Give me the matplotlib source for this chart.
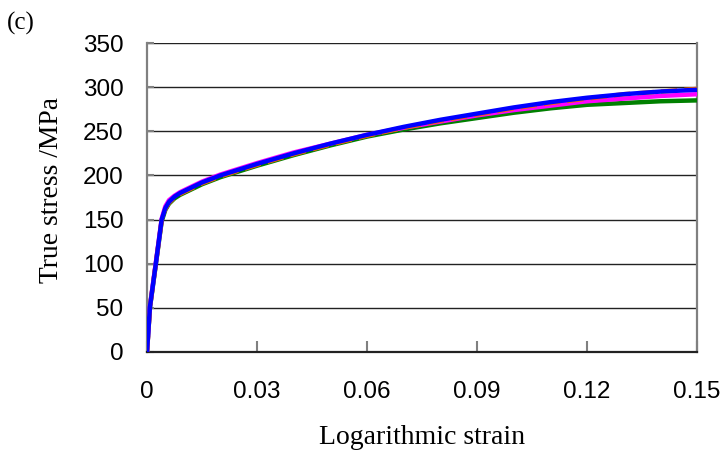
import matplotlib
matplotlib.use("Agg")
import matplotlib.pyplot as plt

# ── data ────────────────────────────────────────────────────────────────────
STRAIN = [0.0, 0.0008, 0.0024, 0.004, 0.0050, 0.0060, 0.0075, 0.009, 0.012,
          0.015, 0.02, 0.03, 0.04, 0.05, 0.06, 0.07, 0.08, 0.09, 0.10,
          0.11, 0.12, 0.13, 0.14, 0.15]

STRESS_BLUE    = [0, 51, 100, 150, 163, 170, 176, 180, 186, 192, 200, 213, 225,
                  236, 246, 255, 263, 270, 277, 283, 288, 292, 295, 297]
STRESS_ORANGE  = [0, 51, 100, 149, 162, 169, 175, 179, 185, 191, 199, 212, 224,
                  235, 245, 254, 262, 269, 276, 282, 287, 292, 295, 298]
STRESS_MAGENTA = [0, 52, 101, 151, 165, 172, 177, 181, 187, 193, 201, 214, 226,
                  236, 246, 254, 261, 268, 274, 279, 284, 287, 290, 292]
STRESS_GREEN   = [0, 50, 99, 148, 161, 168, 174, 178, 184, 190, 198, 211, 223,
                  234, 244, 252, 259, 265, 271, 276, 280, 282, 284, 285]

SERIES = [
    ("green",   STRESS_GREEN,   "#008000", "-"),
    ("magenta", STRESS_MAGENTA, "#FF00FF", "-"),
    ("orange",  STRESS_ORANGE,  "#FF6600", "--"),
    ("blue",    STRESS_BLUE,    "#0000FF", "-"),
]

X_TICKS = [0, 0.03, 0.06, 0.09, 0.12, 0.15]
X_TICK_LABELS = ["0", "0.03", "0.06", "0.09", "0.12", "0.15"]
Y_TICKS = [0, 50, 100, 150, 200, 250, 300, 350]

SANS  = ["Liberation Sans", "DejaVu Sans"]
SERIF = ["Liberation Serif", "DejaVu Serif"]

W, H = 725, 458
fig = plt.figure(figsize=(W / 100, H / 100), dpi=100)
ax = fig.add_axes([147 / W, 1 - 352 / H, 550 / W, 309 / H])

for name, ys, col, ls in SERIES:
    ax.plot(STRAIN, ys, color=col, linestyle=ls, linewidth=3.2,
            solid_capstyle="butt", zorder=3)

ax.set_xlim(0, 0.15)
ax.set_ylim(0, 350)
ax.set_xticks(X_TICKS)
ax.set_xticklabels(X_TICK_LABELS, family=SANS, fontsize=17.5)
ax.set_yticks(Y_TICKS)
ax.set_yticklabels([str(v) for v in Y_TICKS], family=SANS, fontsize=17.5)

ax.yaxis.grid(True, color="#222222", linewidth=1.0)
ax.set_axisbelow(True)

ax.tick_params(axis="x", direction="in", length=8, width=1.5, color="#808080",
               pad=21)
ax.tick_params(axis="y", direction="in", length=5, width=1.5, color="#808080",
               pad=17)

for side in ("left", "bottom", "right"):
    ax.spines[side].set_color("#808080")
    ax.spines[side].set_linewidth(1.6)
ax.spines["bottom"].set_color("#222222")
ax.spines["top"].set_visible(False)

# axis titles placed in figure pixels, as measured on the reference
fig.text(422 / W, 1 - 438 / H, "Logarithmic strain", family=SERIF,
         fontsize=20, ha="center", va="center")
fig.text(52 / W, 1 - 190 / H, "True stress /MPa", family=SERIF,
         fontsize=19.8, ha="center", va="center", rotation=90)
fig.text(7 / W, 1 - 23 / H, "(c)", family=SERIF, fontsize=18,
         ha="left", va="center")

fig.savefig("out.png", dpi=100)
